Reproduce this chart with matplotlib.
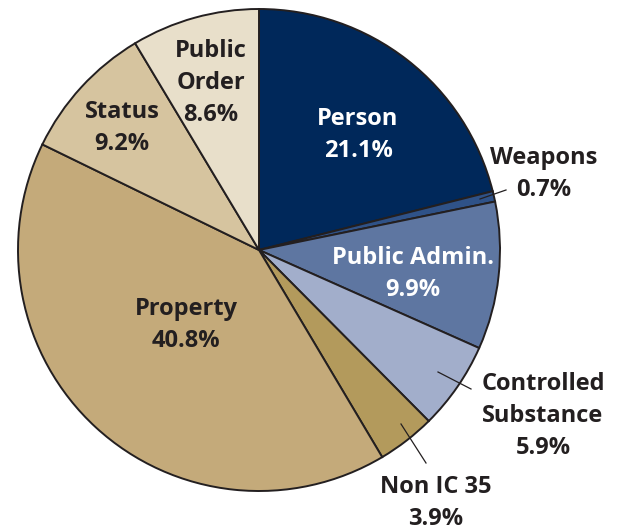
import matplotlib.pyplot as plt

categories = ['Person', 'Weapons', 'Public Admin.', 'Controlled\nSubstance',
              'Non IC 35', 'Property', 'Status', 'Public\nOrder']
shares = [21.1, 0.7, 9.9, 5.9, 3.9, 40.8, 9.2, 8.6]
colors = ['#00285a', '#2f5288', '#5e76a1', '#a2aecb',
          '#b39a5c', '#c4aa7a', '#d6c49f', '#e8dfca']
text_colors = ['white', '#231f20', 'white', '#231f20',
               '#231f20', '#231f20', '#231f20', '#231f20']
# label centres in pixel coords (x, y from top)
label_pos = [(358, 135), (544, 174), (413, 274), (543, 416),
             (436, 503), (186, 325), (122, 128), (211, 83)]
# leader lines: (from, to) in pixel coords, None when label sits inside
leaders = [None, ((480, 199), (506, 190)), None, ((438, 372), (471, 389)),
           ((401, 424), (426, 463)), None, None, None]

W, H = 626, 531
fig = plt.figure(figsize=(W / 100, H / 100), dpi=100)
ax = fig.add_axes([0, 0, 1, 1])

ax.pie(shares, colors=colors, startangle=90, counterclock=False,
       center=(259, H - 250), radius=241, frame=False,
       wedgeprops=dict(edgecolor='#231f20', linewidth=1.4))

for cat, val, (x, y), tc in zip(categories, shares, label_pos, text_colors):
    ax.text(x, H - y, '%s\n%.1f%%' % (cat, val), ha='center', va='center',
            color=tc, fontsize=17, fontweight='bold', family='Open Sans',
            linespacing=1.45)

for ld in leaders:
    if ld is None:
        continue
    (x0, y0), (x1, y1) = ld
    ax.plot([x0, x1], [H - y0, H - y1], color='#231f20', lw=0.9)

ax.set_xlim(0, W)
ax.set_ylim(0, H)
ax.set_aspect('equal')
ax.axis('off')

fig.savefig('out.png', dpi=100)
